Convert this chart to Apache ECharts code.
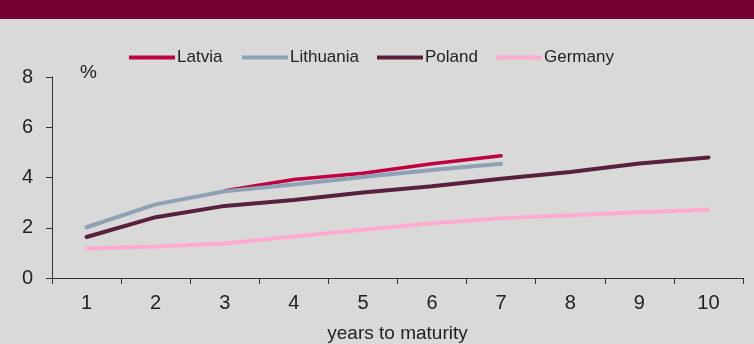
<!DOCTYPE html>
<html>
<head>
<meta charset="utf-8">
<script src="https://cdn.jsdelivr.net/npm/echarts@6/dist/echarts.min.js"></script>
<style>
html,body{margin:0;padding:0;background:#d9d9d9;}
#c{width:754px;height:344px;}
</style>
</head>
<body>
<div id="c"></div>
<script>
const categories = ['1','2','3','4','5','6','7','8','9','10'];
const latvia = [null, null, 3.47, 3.92, 4.17, 4.55, 4.87, null, null, null];
const lithuania = [2.02, 2.93, 3.45, 3.72, 4.02, 4.30, 4.55, null, null, null];
const poland = [1.63, 2.42, 2.87, 3.10, 3.40, 3.65, 3.95, 4.22, 4.56, 4.80];
const germany = [1.17, 1.25, 1.37, 1.65, 1.92, 2.18, 2.38, 2.50, 2.62, 2.72];
const seriesNames = ['Latvia', 'Lithuania', 'Poland', 'Germany'];
const yTicks = [0, 2, 4, 6, 8];

const chart = echarts.init(document.getElementById('c'));
const font = 'Liberation Sans, Arial, sans-serif';
function mk(name, data, color, w) {
  return {
    name: name, type: 'line', data: data, symbol: 'none', smooth: false,
    connectNulls: false,
    lineStyle: { color: color, width: w, cap: 'round' },
    itemStyle: { color: color },
    z: 3
  };
}
const legendLeft = [129, 242, 377, 496];
const legends = seriesNames.map((n, i) => ({
  top: 49, left: legendLeft[i], padding: 0,
  itemWidth: 46, itemHeight: 4, itemGap: 0,
  icon: 'rect',
  textStyle: { fontFamily: font, fontSize: 17, color: '#222', padding: [0, 0, 0, -3] },
  data: [n]
}));
chart.setOption({
  backgroundColor: '#d9d9d9',
  animation: false,
  graphic: [
    { type: 'rect', left: 0, top: 0, shape: { width: 754, height: 19 }, style: { fill: '#770033' } },
    { type: 'text', left: 80, top: 63, style: { text: '%', font: '19px ' + font, fill: '#222' } }
  ],
  legend: legends,
  grid: { left: 52, right: 11, top: 77, bottom: 66, outerBoundsMode: 'none', containLabel: false },
  xAxis: {
    type: 'category', data: categories, boundaryGap: true,
    name: 'years to maturity', nameLocation: 'middle', nameGap: 46,
    nameTextStyle: { fontFamily: font, fontSize: 19, color: '#222' },
    axisLine: { lineStyle: { color: '#333', width: 1 } },
    axisTick: { show: true, alignWithLabel: false, length: 6, lineStyle: { color: '#333' } },
    axisLabel: { fontFamily: font, fontSize: 20, color: '#222', margin: 15 },
    splitLine: { show: false }
  },
  yAxis: {
    type: 'value', min: yTicks[0], max: yTicks[yTicks.length - 1], interval: 2,
    axisLine: { show: true, lineStyle: { color: '#333', width: 1 } },
    axisTick: { show: true, length: 6, lineStyle: { color: '#333' } },
    axisLabel: { fontFamily: font, fontSize: 20, color: '#222', margin: 19 },
    splitLine: { show: false }
  },
  series: [
    mk('Latvia', latvia, '#bf0041', 3.5),
    mk('Lithuania', lithuania, '#8fa1b7', 4),
    mk('Poland', poland, '#58203a', 4),
    mk('Germany', germany, '#ffaacf', 4)
  ]
});
</script>
</body>
</html>
